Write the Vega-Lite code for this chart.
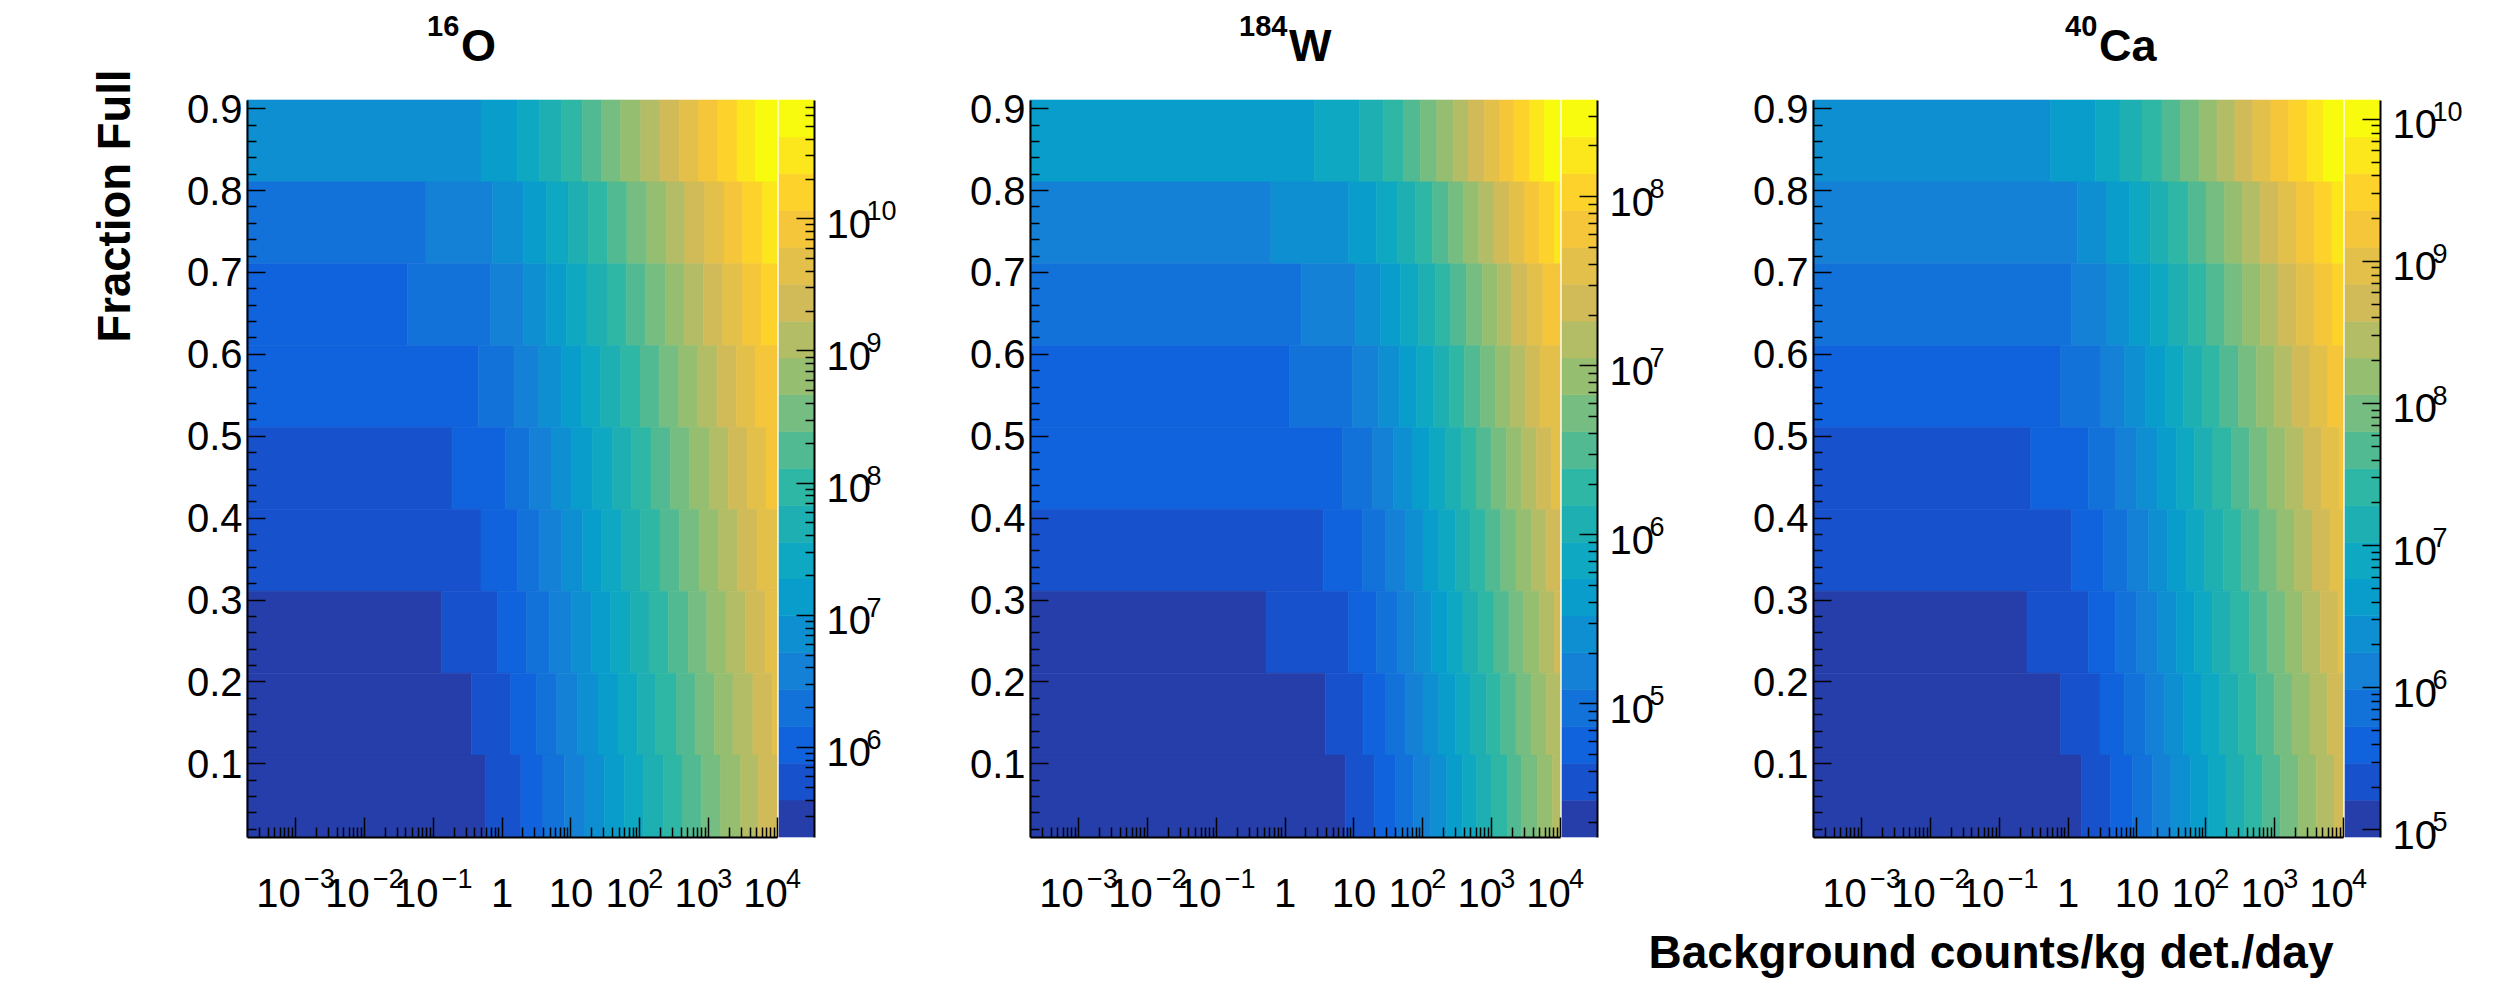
{"$schema":"https://vega.github.io/schema/vega-lite/v6.json","background":"white","padding":{"left":93,"top":13,"right":10,"bottom":10},"bounds":"flush","spacing":2,
"config":{"view":{"stroke":null},"font":"Liberation Sans","axis":{"labelFont":"Liberation Sans","titleFont":"Liberation Sans","labelColor":"black","titleColor":"black","domainColor":"black","tickColor":"black"}},
"datasets":{
"xexp":[{"b":-3,"t":"−3"},{"b":-2,"t":"−2"},{"b":-1,"t":"−1"},{"b":2,"t":"2"},{"b":3,"t":"3"},{"b":4,"t":"4"}],
"supO":[{"t":"16"}],"supW":[{"t":"184"}],"supCa":[{"t":"40"}],
"expO":[{"z":6,"t":"6"},{"z":7,"t":"7"},{"z":8,"t":"8"},{"z":9,"t":"9"},{"z":10,"t":"10"}],
"expW":[{"z":5,"t":"5"},{"z":6,"t":"6"},{"z":7,"t":"7"},{"z":8,"t":"8"}],
"expCa":[{"z":5,"t":"5"},{"z":6,"t":"6"},{"z":7,"t":"7"},{"z":8,"t":"8"},{"z":9,"t":"9"},{"z":10,"t":"10"}],
"O":[{"f0":0.81,"f1":0.91,"b0":-3.699,"b1":-0.3,"c":6},{"f0":0.81,"f1":0.91,"b0":-0.3,"b1":0.23,"c":7},{"f0":0.81,"f1":0.91,"b0":0.23,"b1":0.55,"c":8},{"f0":0.81,"f1":0.91,"b0":0.55,"b1":0.87,"c":9},{"f0":0.81,"f1":0.91,"b0":0.87,"b1":1.17,"c":10},{"f0":0.81,"f1":0.91,"b0":1.17,"b1":1.45,"c":11},{"f0":0.81,"f1":0.91,"b0":1.45,"b1":1.73,"c":12},{"f0":0.81,"f1":0.91,"b0":1.73,"b1":2.02,"c":13},{"f0":0.81,"f1":0.91,"b0":2.02,"b1":2.3,"c":14},{"f0":0.81,"f1":0.91,"b0":2.3,"b1":2.58,"c":15},{"f0":0.81,"f1":0.91,"b0":2.58,"b1":2.86,"c":16},{"f0":0.81,"f1":0.91,"b0":2.86,"b1":3.14,"c":17},{"f0":0.81,"f1":0.91,"b0":3.14,"b1":3.42,"c":18},{"f0":0.81,"f1":0.91,"b0":3.42,"b1":3.69,"c":19},{"f0":0.81,"f1":0.91,"b0":3.69,"b1":4,"c":20},
{"f0":0.71,"f1":0.81,"b0":-3.699,"b1":-1.1,"c":4},{"f0":0.71,"f1":0.81,"b0":-1.1,"b1":-0.13,"c":5},{"f0":0.71,"f1":0.81,"b0":-0.13,"b1":0.32,"c":6},{"f0":0.71,"f1":0.81,"b0":0.32,"b1":0.65,"c":7},{"f0":0.71,"f1":0.81,"b0":0.65,"b1":0.97,"c":8},{"f0":0.71,"f1":0.81,"b0":0.97,"b1":1.26,"c":9},{"f0":0.71,"f1":0.81,"b0":1.26,"b1":1.54,"c":10},{"f0":0.71,"f1":0.81,"b0":1.54,"b1":1.82,"c":11},{"f0":0.71,"f1":0.81,"b0":1.82,"b1":2.11,"c":12},{"f0":0.71,"f1":0.81,"b0":2.11,"b1":2.39,"c":13},{"f0":0.71,"f1":0.81,"b0":2.39,"b1":2.66,"c":14},{"f0":0.71,"f1":0.81,"b0":2.66,"b1":2.95,"c":15},{"f0":0.71,"f1":0.81,"b0":2.95,"b1":3.23,"c":16},{"f0":0.71,"f1":0.81,"b0":3.23,"b1":3.5,"c":17},{"f0":0.71,"f1":0.81,"b0":3.5,"b1":3.79,"c":18},{"f0":0.71,"f1":0.81,"b0":3.79,"b1":4,"c":19},
{"f0":0.61,"f1":0.71,"b0":-3.699,"b1":-1.37,"c":3},{"f0":0.61,"f1":0.71,"b0":-1.37,"b1":-0.16,"c":4},{"f0":0.61,"f1":0.71,"b0":-0.16,"b1":0.32,"c":5},{"f0":0.61,"f1":0.71,"b0":0.32,"b1":0.65,"c":6},{"f0":0.61,"f1":0.71,"b0":0.65,"b1":0.94,"c":7},{"f0":0.61,"f1":0.71,"b0":0.94,"b1":1.24,"c":8},{"f0":0.61,"f1":0.71,"b0":1.24,"b1":1.53,"c":9},{"f0":0.61,"f1":0.71,"b0":1.53,"b1":1.81,"c":10},{"f0":0.61,"f1":0.71,"b0":1.81,"b1":2.09,"c":11},{"f0":0.61,"f1":0.71,"b0":2.09,"b1":2.38,"c":12},{"f0":0.61,"f1":0.71,"b0":2.38,"b1":2.65,"c":13},{"f0":0.61,"f1":0.71,"b0":2.65,"b1":2.93,"c":14},{"f0":0.61,"f1":0.71,"b0":2.93,"b1":3.21,"c":15},{"f0":0.61,"f1":0.71,"b0":3.21,"b1":3.5,"c":16},{"f0":0.61,"f1":0.71,"b0":3.5,"b1":3.77,"c":17},{"f0":0.61,"f1":0.71,"b0":3.77,"b1":4,"c":18},
{"f0":0.51,"f1":0.61,"b0":-3.699,"b1":-0.34,"c":3},{"f0":0.51,"f1":0.61,"b0":-0.34,"b1":0.18,"c":4},{"f0":0.51,"f1":0.61,"b0":0.18,"b1":0.54,"c":5},{"f0":0.51,"f1":0.61,"b0":0.54,"b1":0.87,"c":6},{"f0":0.51,"f1":0.61,"b0":0.87,"b1":1.16,"c":7},{"f0":0.51,"f1":0.61,"b0":1.16,"b1":1.44,"c":8},{"f0":0.51,"f1":0.61,"b0":1.44,"b1":1.73,"c":9},{"f0":0.51,"f1":0.61,"b0":1.73,"b1":2.01,"c":10},{"f0":0.51,"f1":0.61,"b0":2.01,"b1":2.29,"c":11},{"f0":0.51,"f1":0.61,"b0":2.29,"b1":2.57,"c":12},{"f0":0.51,"f1":0.61,"b0":2.57,"b1":2.85,"c":13},{"f0":0.51,"f1":0.61,"b0":2.85,"b1":3.13,"c":14},{"f0":0.51,"f1":0.61,"b0":3.13,"b1":3.41,"c":15},{"f0":0.51,"f1":0.61,"b0":3.41,"b1":3.69,"c":16},{"f0":0.51,"f1":0.61,"b0":3.69,"b1":4,"c":17},
{"f0":0.41,"f1":0.51,"b0":-3.699,"b1":-0.72,"c":2},{"f0":0.41,"f1":0.51,"b0":-0.72,"b1":0.06,"c":3},{"f0":0.41,"f1":0.51,"b0":0.06,"b1":0.4,"c":4},{"f0":0.41,"f1":0.51,"b0":0.4,"b1":0.73,"c":5},{"f0":0.41,"f1":0.51,"b0":0.73,"b1":1.02,"c":6},{"f0":0.41,"f1":0.51,"b0":1.02,"b1":1.32,"c":7},{"f0":0.41,"f1":0.51,"b0":1.32,"b1":1.61,"c":8},{"f0":0.41,"f1":0.51,"b0":1.61,"b1":1.89,"c":9},{"f0":0.41,"f1":0.51,"b0":1.89,"b1":2.17,"c":10},{"f0":0.41,"f1":0.51,"b0":2.17,"b1":2.45,"c":11},{"f0":0.41,"f1":0.51,"b0":2.45,"b1":2.73,"c":12},{"f0":0.41,"f1":0.51,"b0":2.73,"b1":3.02,"c":13},{"f0":0.41,"f1":0.51,"b0":3.02,"b1":3.29,"c":14},{"f0":0.41,"f1":0.51,"b0":3.29,"b1":3.57,"c":15},{"f0":0.41,"f1":0.51,"b0":3.57,"b1":3.84,"c":16},{"f0":0.41,"f1":0.51,"b0":3.84,"b1":4,"c":17},
{"f0":0.31,"f1":0.41,"b0":-3.699,"b1":-0.3,"c":2},{"f0":0.31,"f1":0.41,"b0":-0.3,"b1":0.23,"c":3},{"f0":0.31,"f1":0.41,"b0":0.23,"b1":0.55,"c":4},{"f0":0.31,"f1":0.41,"b0":0.55,"b1":0.87,"c":5},{"f0":0.31,"f1":0.41,"b0":0.87,"b1":1.17,"c":6},{"f0":0.31,"f1":0.41,"b0":1.17,"b1":1.45,"c":7},{"f0":0.31,"f1":0.41,"b0":1.45,"b1":1.74,"c":8},{"f0":0.31,"f1":0.41,"b0":1.74,"b1":2.02,"c":9},{"f0":0.31,"f1":0.41,"b0":2.02,"b1":2.3,"c":10},{"f0":0.31,"f1":0.41,"b0":2.3,"b1":2.58,"c":11},{"f0":0.31,"f1":0.41,"b0":2.58,"b1":2.87,"c":12},{"f0":0.31,"f1":0.41,"b0":2.87,"b1":3.15,"c":13},{"f0":0.31,"f1":0.41,"b0":3.15,"b1":3.43,"c":14},{"f0":0.31,"f1":0.41,"b0":3.43,"b1":3.71,"c":15},{"f0":0.31,"f1":0.41,"b0":3.71,"b1":4,"c":16},
{"f0":0.21,"f1":0.31,"b0":-3.699,"b1":-0.87,"c":1},{"f0":0.21,"f1":0.31,"b0":-0.87,"b1":-0.06,"c":2},{"f0":0.21,"f1":0.31,"b0":-0.06,"b1":0.36,"c":3},{"f0":0.21,"f1":0.31,"b0":0.36,"b1":0.69,"c":4},{"f0":0.21,"f1":0.31,"b0":0.69,"b1":1.01,"c":5},{"f0":0.21,"f1":0.31,"b0":1.01,"b1":1.3,"c":6},{"f0":0.21,"f1":0.31,"b0":1.3,"b1":1.58,"c":7},{"f0":0.21,"f1":0.31,"b0":1.58,"b1":1.87,"c":8},{"f0":0.21,"f1":0.31,"b0":1.87,"b1":2.14,"c":9},{"f0":0.21,"f1":0.31,"b0":2.14,"b1":2.42,"c":10},{"f0":0.21,"f1":0.31,"b0":2.42,"b1":2.71,"c":11},{"f0":0.21,"f1":0.31,"b0":2.71,"b1":2.98,"c":12},{"f0":0.21,"f1":0.31,"b0":2.98,"b1":3.26,"c":13},{"f0":0.21,"f1":0.31,"b0":3.26,"b1":3.54,"c":14},{"f0":0.21,"f1":0.31,"b0":3.54,"b1":3.83,"c":15},{"f0":0.21,"f1":0.31,"b0":3.83,"b1":4,"c":16},
{"f0":0.11,"f1":0.21,"b0":-3.699,"b1":-0.44,"c":1},{"f0":0.11,"f1":0.21,"b0":-0.44,"b1":0.13,"c":2},{"f0":0.11,"f1":0.21,"b0":0.13,"b1":0.51,"c":3},{"f0":0.11,"f1":0.21,"b0":0.51,"b1":0.8,"c":4},{"f0":0.11,"f1":0.21,"b0":0.8,"b1":1.1,"c":5},{"f0":0.11,"f1":0.21,"b0":1.1,"b1":1.4,"c":6},{"f0":0.11,"f1":0.21,"b0":1.4,"b1":1.69,"c":7},{"f0":0.11,"f1":0.21,"b0":1.69,"b1":1.97,"c":8},{"f0":0.11,"f1":0.21,"b0":1.97,"b1":2.24,"c":9},{"f0":0.11,"f1":0.21,"b0":2.24,"b1":2.54,"c":10},{"f0":0.11,"f1":0.21,"b0":2.54,"b1":2.81,"c":11},{"f0":0.11,"f1":0.21,"b0":2.81,"b1":3.09,"c":12},{"f0":0.11,"f1":0.21,"b0":3.09,"b1":3.36,"c":13},{"f0":0.11,"f1":0.21,"b0":3.36,"b1":3.65,"c":14},{"f0":0.11,"f1":0.21,"b0":3.65,"b1":3.93,"c":15},{"f0":0.11,"f1":0.21,"b0":3.93,"b1":4,"c":16},
{"f0":0.01,"f1":0.11,"b0":-3.699,"b1":-0.23,"c":1},{"f0":0.01,"f1":0.11,"b0":-0.23,"b1":0.28,"c":2},{"f0":0.01,"f1":0.11,"b0":0.28,"b1":0.6,"c":3},{"f0":0.01,"f1":0.11,"b0":0.6,"b1":0.91,"c":4},{"f0":0.01,"f1":0.11,"b0":0.91,"b1":1.21,"c":5},{"f0":0.01,"f1":0.11,"b0":1.21,"b1":1.49,"c":6},{"f0":0.01,"f1":0.11,"b0":1.49,"b1":1.78,"c":7},{"f0":0.01,"f1":0.11,"b0":1.78,"b1":2.06,"c":8},{"f0":0.01,"f1":0.11,"b0":2.06,"b1":2.35,"c":9},{"f0":0.01,"f1":0.11,"b0":2.35,"b1":2.62,"c":10},{"f0":0.01,"f1":0.11,"b0":2.62,"b1":2.9,"c":11},{"f0":0.01,"f1":0.11,"b0":2.9,"b1":3.18,"c":12},{"f0":0.01,"f1":0.11,"b0":3.18,"b1":3.47,"c":13},{"f0":0.01,"f1":0.11,"b0":3.47,"b1":3.73,"c":14},{"f0":0.01,"f1":0.11,"b0":3.73,"b1":4,"c":15}],
"W":[{"f0":0.81,"f1":0.91,"b0":-3.699,"b1":0.43,"c":7},{"f0":0.81,"f1":0.91,"b0":0.43,"b1":1.09,"c":8},{"f0":0.81,"f1":0.91,"b0":1.09,"b1":1.44,"c":9},{"f0":0.81,"f1":0.91,"b0":1.44,"b1":1.73,"c":10},{"f0":0.81,"f1":0.91,"b0":1.73,"b1":1.97,"c":11},{"f0":0.81,"f1":0.91,"b0":1.97,"b1":2.21,"c":12},{"f0":0.81,"f1":0.91,"b0":2.21,"b1":2.45,"c":13},{"f0":0.81,"f1":0.91,"b0":2.45,"b1":2.67,"c":14},{"f0":0.81,"f1":0.91,"b0":2.67,"b1":2.9,"c":15},{"f0":0.81,"f1":0.91,"b0":2.9,"b1":3.12,"c":16},{"f0":0.81,"f1":0.91,"b0":3.12,"b1":3.33,"c":17},{"f0":0.81,"f1":0.91,"b0":3.33,"b1":3.56,"c":18},{"f0":0.81,"f1":0.91,"b0":3.56,"b1":3.77,"c":19},{"f0":0.81,"f1":0.91,"b0":3.77,"b1":4,"c":20},
{"f0":0.71,"f1":0.81,"b0":-3.699,"b1":-0.2,"c":5},{"f0":0.71,"f1":0.81,"b0":-0.2,"b1":0.93,"c":6},{"f0":0.71,"f1":0.81,"b0":0.93,"b1":1.33,"c":7},{"f0":0.71,"f1":0.81,"b0":1.33,"b1":1.64,"c":8},{"f0":0.71,"f1":0.81,"b0":1.64,"b1":1.9,"c":9},{"f0":0.71,"f1":0.81,"b0":1.9,"b1":2.15,"c":10},{"f0":0.71,"f1":0.81,"b0":2.15,"b1":2.38,"c":11},{"f0":0.71,"f1":0.81,"b0":2.38,"b1":2.6,"c":12},{"f0":0.71,"f1":0.81,"b0":2.6,"b1":2.82,"c":13},{"f0":0.71,"f1":0.81,"b0":2.82,"b1":3.04,"c":14},{"f0":0.71,"f1":0.81,"b0":3.04,"b1":3.26,"c":15},{"f0":0.71,"f1":0.81,"b0":3.26,"b1":3.48,"c":16},{"f0":0.71,"f1":0.81,"b0":3.48,"b1":3.7,"c":17},{"f0":0.71,"f1":0.81,"b0":3.7,"b1":3.92,"c":18},{"f0":0.71,"f1":0.81,"b0":3.92,"b1":4,"c":19},
{"f0":0.61,"f1":0.71,"b0":-3.699,"b1":0.24,"c":4},{"f0":0.61,"f1":0.71,"b0":0.24,"b1":1.03,"c":5},{"f0":0.61,"f1":0.71,"b0":1.03,"b1":1.39,"c":6},{"f0":0.61,"f1":0.71,"b0":1.39,"b1":1.68,"c":7},{"f0":0.61,"f1":0.71,"b0":1.68,"b1":1.94,"c":8},{"f0":0.61,"f1":0.71,"b0":1.94,"b1":2.19,"c":9},{"f0":0.61,"f1":0.71,"b0":2.19,"b1":2.41,"c":10},{"f0":0.61,"f1":0.71,"b0":2.41,"b1":2.64,"c":11},{"f0":0.61,"f1":0.71,"b0":2.64,"b1":2.87,"c":12},{"f0":0.61,"f1":0.71,"b0":2.87,"b1":3.09,"c":13},{"f0":0.61,"f1":0.71,"b0":3.09,"b1":3.3,"c":14},{"f0":0.61,"f1":0.71,"b0":3.3,"b1":3.53,"c":15},{"f0":0.61,"f1":0.71,"b0":3.53,"b1":3.75,"c":16},{"f0":0.61,"f1":0.71,"b0":3.75,"b1":4,"c":17},
{"f0":0.51,"f1":0.61,"b0":-3.699,"b1":0.07,"c":3},{"f0":0.51,"f1":0.61,"b0":0.07,"b1":0.98,"c":4},{"f0":0.51,"f1":0.61,"b0":0.98,"b1":1.36,"c":5},{"f0":0.51,"f1":0.61,"b0":1.36,"b1":1.67,"c":6},{"f0":0.51,"f1":0.61,"b0":1.67,"b1":1.91,"c":7},{"f0":0.51,"f1":0.61,"b0":1.91,"b1":2.16,"c":8},{"f0":0.51,"f1":0.61,"b0":2.16,"b1":2.39,"c":9},{"f0":0.51,"f1":0.61,"b0":2.39,"b1":2.61,"c":10},{"f0":0.51,"f1":0.61,"b0":2.61,"b1":2.84,"c":11},{"f0":0.51,"f1":0.61,"b0":2.84,"b1":3.06,"c":12},{"f0":0.51,"f1":0.61,"b0":3.06,"b1":3.28,"c":13},{"f0":0.51,"f1":0.61,"b0":3.28,"b1":3.5,"c":14},{"f0":0.51,"f1":0.61,"b0":3.5,"b1":3.71,"c":15},{"f0":0.51,"f1":0.61,"b0":3.71,"b1":4,"c":16},
{"f0":0.41,"f1":0.51,"b0":-3.699,"b1":0.84,"c":3},{"f0":0.41,"f1":0.51,"b0":0.84,"b1":1.27,"c":4},{"f0":0.41,"f1":0.51,"b0":1.27,"b1":1.58,"c":5},{"f0":0.41,"f1":0.51,"b0":1.58,"b1":1.85,"c":6},{"f0":0.41,"f1":0.51,"b0":1.85,"b1":2.1,"c":7},{"f0":0.41,"f1":0.51,"b0":2.1,"b1":2.33,"c":8},{"f0":0.41,"f1":0.51,"b0":2.33,"b1":2.57,"c":9},{"f0":0.41,"f1":0.51,"b0":2.57,"b1":2.78,"c":10},{"f0":0.41,"f1":0.51,"b0":2.78,"b1":3,"c":11},{"f0":0.41,"f1":0.51,"b0":3,"b1":3.22,"c":12},{"f0":0.41,"f1":0.51,"b0":3.22,"b1":3.44,"c":13},{"f0":0.41,"f1":0.51,"b0":3.44,"b1":3.66,"c":14},{"f0":0.41,"f1":0.51,"b0":3.66,"b1":3.88,"c":15},{"f0":0.41,"f1":0.51,"b0":3.88,"b1":4,"c":16},
{"f0":0.31,"f1":0.41,"b0":-3.699,"b1":0.56,"c":2},{"f0":0.31,"f1":0.41,"b0":0.56,"b1":1.13,"c":3},{"f0":0.31,"f1":0.41,"b0":1.13,"b1":1.47,"c":4},{"f0":0.31,"f1":0.41,"b0":1.47,"b1":1.76,"c":5},{"f0":0.31,"f1":0.41,"b0":1.76,"b1":2.01,"c":6},{"f0":0.31,"f1":0.41,"b0":2.01,"b1":2.24,"c":7},{"f0":0.31,"f1":0.41,"b0":2.24,"b1":2.48,"c":8},{"f0":0.31,"f1":0.41,"b0":2.48,"b1":2.7,"c":9},{"f0":0.31,"f1":0.41,"b0":2.7,"b1":2.92,"c":10},{"f0":0.31,"f1":0.41,"b0":2.92,"b1":3.14,"c":11},{"f0":0.31,"f1":0.41,"b0":3.14,"b1":3.36,"c":12},{"f0":0.31,"f1":0.41,"b0":3.36,"b1":3.59,"c":13},{"f0":0.31,"f1":0.41,"b0":3.59,"b1":3.8,"c":14},{"f0":0.31,"f1":0.41,"b0":3.8,"b1":4,"c":15},
{"f0":0.21,"f1":0.31,"b0":-3.699,"b1":-0.27,"c":1},{"f0":0.21,"f1":0.31,"b0":-0.27,"b1":0.93,"c":2},{"f0":0.21,"f1":0.31,"b0":0.93,"b1":1.33,"c":3},{"f0":0.21,"f1":0.31,"b0":1.33,"b1":1.64,"c":4},{"f0":0.21,"f1":0.31,"b0":1.64,"b1":1.89,"c":5},{"f0":0.21,"f1":0.31,"b0":1.89,"b1":2.13,"c":6},{"f0":0.21,"f1":0.31,"b0":2.13,"b1":2.36,"c":7},{"f0":0.21,"f1":0.31,"b0":2.36,"b1":2.59,"c":8},{"f0":0.21,"f1":0.31,"b0":2.59,"b1":2.81,"c":9},{"f0":0.21,"f1":0.31,"b0":2.81,"b1":3.04,"c":10},{"f0":0.21,"f1":0.31,"b0":3.04,"b1":3.26,"c":11},{"f0":0.21,"f1":0.31,"b0":3.26,"b1":3.47,"c":12},{"f0":0.21,"f1":0.31,"b0":3.47,"b1":3.7,"c":13},{"f0":0.21,"f1":0.31,"b0":3.7,"b1":3.92,"c":14},{"f0":0.21,"f1":0.31,"b0":3.92,"b1":4,"c":15},
{"f0":0.11,"f1":0.21,"b0":-3.699,"b1":0.59,"c":1},{"f0":0.11,"f1":0.21,"b0":0.59,"b1":1.14,"c":2},{"f0":0.11,"f1":0.21,"b0":1.14,"b1":1.47,"c":3},{"f0":0.11,"f1":0.21,"b0":1.47,"b1":1.76,"c":4},{"f0":0.11,"f1":0.21,"b0":1.76,"b1":2.01,"c":5},{"f0":0.11,"f1":0.21,"b0":2.01,"b1":2.24,"c":6},{"f0":0.11,"f1":0.21,"b0":2.24,"b1":2.48,"c":7},{"f0":0.11,"f1":0.21,"b0":2.48,"b1":2.7,"c":8},{"f0":0.11,"f1":0.21,"b0":2.7,"b1":2.93,"c":9},{"f0":0.11,"f1":0.21,"b0":2.93,"b1":3.14,"c":10},{"f0":0.11,"f1":0.21,"b0":3.14,"b1":3.36,"c":11},{"f0":0.11,"f1":0.21,"b0":3.36,"b1":3.58,"c":12},{"f0":0.11,"f1":0.21,"b0":3.58,"b1":3.8,"c":13},{"f0":0.11,"f1":0.21,"b0":3.8,"b1":4,"c":14},
{"f0":0.01,"f1":0.11,"b0":-3.699,"b1":0.88,"c":1},{"f0":0.01,"f1":0.11,"b0":0.88,"b1":1.3,"c":2},{"f0":0.01,"f1":0.11,"b0":1.3,"b1":1.61,"c":3},{"f0":0.01,"f1":0.11,"b0":1.61,"b1":1.87,"c":4},{"f0":0.01,"f1":0.11,"b0":1.87,"b1":2.12,"c":5},{"f0":0.01,"f1":0.11,"b0":2.12,"b1":2.35,"c":6},{"f0":0.01,"f1":0.11,"b0":2.35,"b1":2.58,"c":7},{"f0":0.01,"f1":0.11,"b0":2.58,"b1":2.79,"c":8},{"f0":0.01,"f1":0.11,"b0":2.79,"b1":3.01,"c":9},{"f0":0.01,"f1":0.11,"b0":3.01,"b1":3.24,"c":10},{"f0":0.01,"f1":0.11,"b0":3.24,"b1":3.44,"c":11},{"f0":0.01,"f1":0.11,"b0":3.44,"b1":3.67,"c":12},{"f0":0.01,"f1":0.11,"b0":3.67,"b1":3.89,"c":13},{"f0":0.01,"f1":0.11,"b0":3.89,"b1":4,"c":14}],
"Ca":[{"f0":0.81,"f1":0.91,"b0":-3.699,"b1":-0.25,"c":6},{"f0":0.81,"f1":0.91,"b0":-0.25,"b1":0.4,"c":7},{"f0":0.81,"f1":0.91,"b0":0.4,"b1":0.76,"c":8},{"f0":0.81,"f1":0.91,"b0":0.76,"b1":1.08,"c":9},{"f0":0.81,"f1":0.91,"b0":1.08,"b1":1.37,"c":10},{"f0":0.81,"f1":0.91,"b0":1.37,"b1":1.64,"c":11},{"f0":0.81,"f1":0.91,"b0":1.64,"b1":1.91,"c":12},{"f0":0.81,"f1":0.91,"b0":1.91,"b1":2.17,"c":13},{"f0":0.81,"f1":0.91,"b0":2.17,"b1":2.43,"c":14},{"f0":0.81,"f1":0.91,"b0":2.43,"b1":2.69,"c":15},{"f0":0.81,"f1":0.91,"b0":2.69,"b1":2.95,"c":16},{"f0":0.81,"f1":0.91,"b0":2.95,"b1":3.21,"c":17},{"f0":0.81,"f1":0.91,"b0":3.21,"b1":3.48,"c":18},{"f0":0.81,"f1":0.91,"b0":3.48,"b1":3.72,"c":19},{"f0":0.81,"f1":0.91,"b0":3.72,"b1":4,"c":20},
{"f0":0.71,"f1":0.81,"b0":-3.699,"b1":0.14,"c":5},{"f0":0.71,"f1":0.81,"b0":0.14,"b1":0.57,"c":6},{"f0":0.71,"f1":0.81,"b0":0.57,"b1":0.9,"c":7},{"f0":0.71,"f1":0.81,"b0":0.9,"b1":1.2,"c":8},{"f0":0.71,"f1":0.81,"b0":1.2,"b1":1.47,"c":9},{"f0":0.71,"f1":0.81,"b0":1.47,"b1":1.75,"c":10},{"f0":0.71,"f1":0.81,"b0":1.75,"b1":2.01,"c":11},{"f0":0.71,"f1":0.81,"b0":2.01,"b1":2.28,"c":12},{"f0":0.71,"f1":0.81,"b0":2.28,"b1":2.54,"c":13},{"f0":0.71,"f1":0.81,"b0":2.54,"b1":2.8,"c":14},{"f0":0.71,"f1":0.81,"b0":2.8,"b1":3.06,"c":15},{"f0":0.71,"f1":0.81,"b0":3.06,"b1":3.32,"c":16},{"f0":0.71,"f1":0.81,"b0":3.32,"b1":3.58,"c":17},{"f0":0.71,"f1":0.81,"b0":3.58,"b1":3.84,"c":18},{"f0":0.71,"f1":0.81,"b0":3.84,"b1":4,"c":19},
{"f0":0.61,"f1":0.71,"b0":-3.699,"b1":0.06,"c":4},{"f0":0.61,"f1":0.71,"b0":0.06,"b1":0.57,"c":5},{"f0":0.61,"f1":0.71,"b0":0.57,"b1":0.9,"c":6},{"f0":0.61,"f1":0.71,"b0":0.9,"b1":1.2,"c":7},{"f0":0.61,"f1":0.71,"b0":1.2,"b1":1.47,"c":8},{"f0":0.61,"f1":0.71,"b0":1.47,"b1":1.75,"c":9},{"f0":0.61,"f1":0.71,"b0":1.75,"b1":2.02,"c":10},{"f0":0.61,"f1":0.71,"b0":2.02,"b1":2.28,"c":11},{"f0":0.61,"f1":0.71,"b0":2.28,"b1":2.54,"c":12},{"f0":0.61,"f1":0.71,"b0":2.54,"b1":2.8,"c":13},{"f0":0.61,"f1":0.71,"b0":2.8,"b1":3.06,"c":14},{"f0":0.61,"f1":0.71,"b0":3.06,"b1":3.32,"c":15},{"f0":0.61,"f1":0.71,"b0":3.32,"b1":3.58,"c":16},{"f0":0.61,"f1":0.71,"b0":3.58,"b1":3.84,"c":17},{"f0":0.61,"f1":0.71,"b0":3.84,"b1":4,"c":18},
{"f0":0.51,"f1":0.61,"b0":-3.699,"b1":-0.1,"c":3},{"f0":0.51,"f1":0.61,"b0":-0.1,"b1":0.47,"c":4},{"f0":0.51,"f1":0.61,"b0":0.47,"b1":0.82,"c":5},{"f0":0.51,"f1":0.61,"b0":0.82,"b1":1.13,"c":6},{"f0":0.51,"f1":0.61,"b0":1.13,"b1":1.42,"c":7},{"f0":0.51,"f1":0.61,"b0":1.42,"b1":1.68,"c":8},{"f0":0.51,"f1":0.61,"b0":1.68,"b1":1.96,"c":9},{"f0":0.51,"f1":0.61,"b0":1.96,"b1":2.21,"c":10},{"f0":0.51,"f1":0.61,"b0":2.21,"b1":2.48,"c":11},{"f0":0.51,"f1":0.61,"b0":2.48,"b1":2.74,"c":12},{"f0":0.51,"f1":0.61,"b0":2.74,"b1":3,"c":13},{"f0":0.51,"f1":0.61,"b0":3,"b1":3.26,"c":14},{"f0":0.51,"f1":0.61,"b0":3.26,"b1":3.52,"c":15},{"f0":0.51,"f1":0.61,"b0":3.52,"b1":3.78,"c":16},{"f0":0.51,"f1":0.61,"b0":3.78,"b1":4,"c":17},
{"f0":0.41,"f1":0.51,"b0":-3.699,"b1":-0.54,"c":2},{"f0":0.41,"f1":0.51,"b0":-0.54,"b1":0.3,"c":3},{"f0":0.41,"f1":0.51,"b0":0.3,"b1":0.7,"c":4},{"f0":0.41,"f1":0.51,"b0":0.7,"b1":1,"c":5},{"f0":0.41,"f1":0.51,"b0":1,"b1":1.3,"c":6},{"f0":0.41,"f1":0.51,"b0":1.3,"b1":1.58,"c":7},{"f0":0.41,"f1":0.51,"b0":1.58,"b1":1.84,"c":8},{"f0":0.41,"f1":0.51,"b0":1.84,"b1":2.11,"c":9},{"f0":0.41,"f1":0.51,"b0":2.11,"b1":2.38,"c":10},{"f0":0.41,"f1":0.51,"b0":2.38,"b1":2.64,"c":11},{"f0":0.41,"f1":0.51,"b0":2.64,"b1":2.9,"c":12},{"f0":0.41,"f1":0.51,"b0":2.9,"b1":3.16,"c":13},{"f0":0.41,"f1":0.51,"b0":3.16,"b1":3.42,"c":14},{"f0":0.41,"f1":0.51,"b0":3.42,"b1":3.69,"c":15},{"f0":0.41,"f1":0.51,"b0":3.69,"b1":3.95,"c":16},{"f0":0.41,"f1":0.51,"b0":3.95,"b1":4,"c":17},
{"f0":0.31,"f1":0.41,"b0":-3.699,"b1":0.06,"c":2},{"f0":0.31,"f1":0.41,"b0":0.06,"b1":0.52,"c":3},{"f0":0.31,"f1":0.41,"b0":0.52,"b1":0.87,"c":4},{"f0":0.31,"f1":0.41,"b0":0.87,"b1":1.17,"c":5},{"f0":0.31,"f1":0.41,"b0":1.17,"b1":1.45,"c":6},{"f0":0.31,"f1":0.41,"b0":1.45,"b1":1.73,"c":7},{"f0":0.31,"f1":0.41,"b0":1.73,"b1":1.99,"c":8},{"f0":0.31,"f1":0.41,"b0":1.99,"b1":2.26,"c":9},{"f0":0.31,"f1":0.41,"b0":2.26,"b1":2.52,"c":10},{"f0":0.31,"f1":0.41,"b0":2.52,"b1":2.78,"c":11},{"f0":0.31,"f1":0.41,"b0":2.78,"b1":3.04,"c":12},{"f0":0.31,"f1":0.41,"b0":3.04,"b1":3.29,"c":13},{"f0":0.31,"f1":0.41,"b0":3.29,"b1":3.55,"c":14},{"f0":0.31,"f1":0.41,"b0":3.55,"b1":3.81,"c":15},{"f0":0.31,"f1":0.41,"b0":3.81,"b1":4,"c":16},
{"f0":0.21,"f1":0.31,"b0":-3.699,"b1":-0.59,"c":1},{"f0":0.21,"f1":0.31,"b0":-0.59,"b1":0.3,"c":2},{"f0":0.21,"f1":0.31,"b0":0.3,"b1":0.69,"c":3},{"f0":0.21,"f1":0.31,"b0":0.69,"b1":1,"c":4},{"f0":0.21,"f1":0.31,"b0":1,"b1":1.3,"c":5},{"f0":0.21,"f1":0.31,"b0":1.3,"b1":1.58,"c":6},{"f0":0.21,"f1":0.31,"b0":1.58,"b1":1.84,"c":7},{"f0":0.21,"f1":0.31,"b0":1.84,"b1":2.1,"c":8},{"f0":0.21,"f1":0.31,"b0":2.1,"b1":2.37,"c":9},{"f0":0.21,"f1":0.31,"b0":2.37,"b1":2.64,"c":10},{"f0":0.21,"f1":0.31,"b0":2.64,"b1":2.9,"c":11},{"f0":0.21,"f1":0.31,"b0":2.9,"b1":3.16,"c":12},{"f0":0.21,"f1":0.31,"b0":3.16,"b1":3.41,"c":13},{"f0":0.21,"f1":0.31,"b0":3.41,"b1":3.67,"c":14},{"f0":0.21,"f1":0.31,"b0":3.67,"b1":3.93,"c":15},{"f0":0.21,"f1":0.31,"b0":3.93,"b1":4,"c":16},
{"f0":0.11,"f1":0.21,"b0":-3.699,"b1":-0.1,"c":1},{"f0":0.11,"f1":0.21,"b0":-0.1,"b1":0.47,"c":2},{"f0":0.11,"f1":0.21,"b0":0.47,"b1":0.82,"c":3},{"f0":0.11,"f1":0.21,"b0":0.82,"b1":1.13,"c":4},{"f0":0.11,"f1":0.21,"b0":1.13,"b1":1.41,"c":5},{"f0":0.11,"f1":0.21,"b0":1.41,"b1":1.68,"c":6},{"f0":0.11,"f1":0.21,"b0":1.68,"b1":1.95,"c":7},{"f0":0.11,"f1":0.21,"b0":1.95,"b1":2.21,"c":8},{"f0":0.11,"f1":0.21,"b0":2.21,"b1":2.48,"c":9},{"f0":0.11,"f1":0.21,"b0":2.48,"b1":2.74,"c":10},{"f0":0.11,"f1":0.21,"b0":2.74,"b1":3,"c":11},{"f0":0.11,"f1":0.21,"b0":3,"b1":3.26,"c":12},{"f0":0.11,"f1":0.21,"b0":3.26,"b1":3.52,"c":13},{"f0":0.11,"f1":0.21,"b0":3.52,"b1":3.77,"c":14},{"f0":0.11,"f1":0.21,"b0":3.77,"b1":4,"c":15},
{"f0":0.01,"f1":0.11,"b0":-3.699,"b1":0.2,"c":1},{"f0":0.01,"f1":0.11,"b0":0.2,"b1":0.62,"c":2},{"f0":0.01,"f1":0.11,"b0":0.62,"b1":0.94,"c":3},{"f0":0.01,"f1":0.11,"b0":0.94,"b1":1.23,"c":4},{"f0":0.01,"f1":0.11,"b0":1.23,"b1":1.5,"c":5},{"f0":0.01,"f1":0.11,"b0":1.5,"b1":1.78,"c":6},{"f0":0.01,"f1":0.11,"b0":1.78,"b1":2.04,"c":7},{"f0":0.01,"f1":0.11,"b0":2.04,"b1":2.3,"c":8},{"f0":0.01,"f1":0.11,"b0":2.3,"b1":2.57,"c":9},{"f0":0.01,"f1":0.11,"b0":2.57,"b1":2.83,"c":10},{"f0":0.01,"f1":0.11,"b0":2.83,"b1":3.09,"c":11},{"f0":0.01,"f1":0.11,"b0":3.09,"b1":3.35,"c":12},{"f0":0.01,"f1":0.11,"b0":3.35,"b1":3.61,"c":13},{"f0":0.01,"f1":0.11,"b0":3.61,"b1":3.87,"c":14},{"f0":0.01,"f1":0.11,"b0":3.87,"b1":4,"c":15}],
"barO":[{"z0":5.319,"z1":5.598,"c":1},{"z0":5.598,"z1":5.877,"c":2},{"z0":5.877,"z1":6.155,"c":3},{"z0":6.155,"z1":6.434,"c":4},{"z0":6.434,"z1":6.713,"c":5},{"z0":6.713,"z1":6.992,"c":6},{"z0":6.992,"z1":7.271,"c":7},{"z0":7.271,"z1":7.549,"c":8},{"z0":7.549,"z1":7.828,"c":9},{"z0":7.828,"z1":8.107,"c":10},{"z0":8.107,"z1":8.386,"c":11},{"z0":8.386,"z1":8.665,"c":12},{"z0":8.665,"z1":8.943,"c":13},{"z0":8.943,"z1":9.222,"c":14},{"z0":9.222,"z1":9.501,"c":15},{"z0":9.501,"z1":9.78,"c":16},{"z0":9.78,"z1":10.059,"c":17},{"z0":10.059,"z1":10.337,"c":18},{"z0":10.337,"z1":10.616,"c":19},{"z0":10.616,"z1":10.895,"c":20}],
"barW":[{"z0":4.21,"z1":4.428,"c":1},{"z0":4.428,"z1":4.646,"c":2},{"z0":4.646,"z1":4.864,"c":3},{"z0":4.864,"z1":5.082,"c":4},{"z0":5.082,"z1":5.3,"c":5},{"z0":5.3,"z1":5.518,"c":6},{"z0":5.518,"z1":5.736,"c":7},{"z0":5.736,"z1":5.954,"c":8},{"z0":5.954,"z1":6.172,"c":9},{"z0":6.172,"z1":6.39,"c":10},{"z0":6.39,"z1":6.608,"c":11},{"z0":6.608,"z1":6.826,"c":12},{"z0":6.826,"z1":7.044,"c":13},{"z0":7.044,"z1":7.262,"c":14},{"z0":7.262,"z1":7.48,"c":15},{"z0":7.48,"z1":7.698,"c":16},{"z0":7.698,"z1":7.916,"c":17},{"z0":7.916,"z1":8.134,"c":18},{"z0":8.134,"z1":8.352,"c":19},{"z0":8.352,"z1":8.57,"c":20}],
"barCa":[{"z0":4.946,"z1":5.205,"c":1},{"z0":5.205,"z1":5.465,"c":2},{"z0":5.465,"z1":5.724,"c":3},{"z0":5.724,"z1":5.983,"c":4},{"z0":5.983,"z1":6.243,"c":5},{"z0":6.243,"z1":6.502,"c":6},{"z0":6.502,"z1":6.761,"c":7},{"z0":6.761,"z1":7.02,"c":8},{"z0":7.02,"z1":7.28,"c":9},{"z0":7.28,"z1":7.539,"c":10},{"z0":7.539,"z1":7.798,"c":11},{"z0":7.798,"z1":8.058,"c":12},{"z0":8.058,"z1":8.317,"c":13},{"z0":8.317,"z1":8.576,"c":14},{"z0":8.576,"z1":8.835,"c":15},{"z0":8.835,"z1":9.095,"c":16},{"z0":9.095,"z1":9.354,"c":17},{"z0":9.354,"z1":9.613,"c":18},{"z0":9.613,"z1":9.872,"c":19},{"z0":9.872,"z1":10.132,"c":20}],
"none":[]
},
"hconcat":[
{"width":530,"height":737,"title":{"text":"O","font":"Liberation Sans","fontSize":45,"fontWeight":"bold","color":"black","anchor":"start","frame":"group","baseline":"alphabetic","dx":214,"offset":-93},"resolve":{"axis":{"x":"independent","y":"independent"}},
"layer":[
{"data":{"name":"O"},"mark":{"type":"rect","strokeWidth":0.6},
"encoding":{"x":{"field":"b0","type":"quantitative","scale":{"domain":[-3.699,4],"nice":false,"zero":false},"axis":{"orient":"bottom","zindex":1,"title":null,"grid":false,"domainWidth":2,"tickWidth":1.5,"values":[-3.523,-3.398,-3.301,-3.222,-3.155,-3.097,-3.046,-3,-2.699,-2.523,-2.398,-2.301,-2.222,-2.155,-2.097,-2.046,-2,-1.699,-1.523,-1.398,-1.301,-1.222,-1.155,-1.097,-1.046,-1,-0.699,-0.523,-0.398,-0.301,-0.222,-0.155,-0.097,-0.046,0,0.301,0.477,0.602,0.699,0.778,0.845,0.903,0.954,1,1.301,1.477,1.602,1.699,1.778,1.845,1.903,1.954,2,2.301,2.477,2.602,2.699,2.778,2.845,2.903,2.954,3,3.301,3.477,3.602,3.699,3.778,3.845,3.903,3.954,4],"labelExpr":"datum.value%1==0?(datum.value==0?'1':'10'):''","labelFontSize":40,"labelOverlap":false,"labelFlush":false,"labelPadding":57,"labelBaseline":"top","labelOffset":{"condition":[{"test":"datum.value<0","value":-17},{"test":"datum.value>=2","value":-12}],"value":0},"tickSize":{"condition":{"test":"datum.value%1==0","value":-20},"value":-10}}},"x2":{"field":"b1"},
"y":{"field":"f0","type":"quantitative","scale":{"domain":[0.01,0.91],"nice":false,"zero":false},"axis":{"orient":"left","zindex":1,"title":"Fraction Full","titleFontSize":45.5,"titleFontWeight":"bold","titleAngle":-90,"titleAlign":"right","titleBaseline":"alphabetic","titleAnchor":"none","titleX":-118,"titleY":-31,"grid":false,"domainWidth":2,"tickWidth":1.5,"values":[0.02,0.04,0.06,0.08,0.1,0.12,0.14,0.16,0.18,0.2,0.22,0.24,0.26,0.28,0.3,0.32,0.34,0.36,0.38,0.4,0.42,0.44,0.46,0.48,0.5,0.52,0.54,0.56,0.58,0.6,0.62,0.64,0.66,0.68,0.7,0.72,0.74,0.76,0.78,0.8,0.82,0.84,0.86,0.88,0.9],"labelExpr":"round(datum.value*100)%10==0?format(datum.value,'.1f'):''","labelFontSize":40,"labelOverlap":false,"labelFlush":false,"labelPadding":23,"labelOffset":2,"tickSize":{"condition":{"test":"round(datum.value*100)%10==0","value":-18},"value":-9}}},"y2":{"field":"f1"},
"color":{"field":"c","type":"ordinal","legend":null,"scale":{"domain":[1,2,3,4,5,6,7,8,9,10,11,12,13,14,15,16,17,18,19,20],"range":["#263EA9","#1752CC","#1063DC","#1272D9","#1481D6","#0E8FD1","#099DCC","#0EA8C2","#1EAFB3","#2EB7A4","#52BA92","#75BD80","#96BE71","#B3BD65","#D1BB59","#E3C049","#F5C53A","#FDD22B","#FBE71C","#F9FB0E"]}},
"stroke":{"field":"c","type":"ordinal","legend":null,"scale":{"domain":[1,2,3,4,5,6,7,8,9,10,11,12,13,14,15,16,17,18,19,20],"range":["#263EA9","#1752CC","#1063DC","#1272D9","#1481D6","#0E8FD1","#099DCC","#0EA8C2","#1EAFB3","#2EB7A4","#52BA92","#75BD80","#96BE71","#B3BD65","#D1BB59","#E3C049","#F5C53A","#FDD22B","#FBE71C","#F9FB0E"]}}}},
{"data":{"name":"xexp"},"mark":{"type":"text","font":"Liberation Sans","fontSize":27,"color":"black","align":"left","baseline":"alphabetic","dx":9,"dy":51},"encoding":{"x":{"field":"b","type":"quantitative","axis":null},"y":{"datum":0.01,"type":"quantitative","axis":null},"text":{"field":"t"}}},
{"data":{"name":"supO"},"mark":{"type":"text","font":"Liberation Sans","fontSize":29,"fontWeight":"bold","color":"black","align":"left","baseline":"alphabetic","dx":-85,"dy":-64},"encoding":{"y":{"datum":0.91,"type":"quantitative","axis":null},"text":{"field":"t"}}}
]},
{"width":35,"height":737,"resolve":{"axis":{"y":"independent"}},"layer":[
{"data":{"name":"barO"},"mark":{"type":"rect","strokeWidth":0.6},
"encoding":{"y":{"field":"z0","type":"quantitative","scale":{"domain":[5.319,10.895],"nice":false,"zero":false},"axis":{"orient":"right","zindex":1,"title":null,"grid":false,"domainWidth":2,"tickWidth":1.5,"values":[5.477,5.602,5.699,5.778,5.845,5.903,5.954,6,6.301,6.477,6.602,6.699,6.778,6.845,6.903,6.954,7,7.301,7.477,7.602,7.699,7.778,7.845,7.903,7.954,8,8.301,8.477,8.602,8.699,8.778,8.845,8.903,8.954,9,9.301,9.477,9.602,9.699,9.778,9.845,9.903,9.954,10,10.301,10.477,10.602,10.699,10.778,10.845],"labelExpr":"datum.value%1==0?'10':''","labelFontSize":40,"labelOverlap":false,"labelFlush":false,"labelPadding":30,"labelOffset":7,"tickSize":{"condition":{"test":"datum.value%1==0","value":-18},"value":-9}}},"y2":{"field":"z1"},
"color":{"field":"c","type":"ordinal","legend":null,"scale":{"domain":[1,2,3,4,5,6,7,8,9,10,11,12,13,14,15,16,17,18,19,20],"range":["#263EA9","#1752CC","#1063DC","#1272D9","#1481D6","#0E8FD1","#099DCC","#0EA8C2","#1EAFB3","#2EB7A4","#52BA92","#75BD80","#96BE71","#B3BD65","#D1BB59","#E3C049","#F5C53A","#FDD22B","#FBE71C","#F9FB0E"]}},
"stroke":{"field":"c","type":"ordinal","legend":null,"scale":{"domain":[1,2,3,4,5,6,7,8,9,10,11,12,13,14,15,16,17,18,19,20],"range":["#263EA9","#1752CC","#1063DC","#1272D9","#1481D6","#0E8FD1","#099DCC","#0EA8C2","#1EAFB3","#2EB7A4","#52BA92","#75BD80","#96BE71","#B3BD65","#D1BB59","#E3C049","#F5C53A","#FDD22B","#FBE71C","#F9FB0E"]}}}},
{"data":{"name":"expO"},"mark":{"type":"text","font":"Liberation Sans","fontSize":27,"color":"black","align":"left","baseline":"alphabetic","dx":70,"dy":2},"encoding":{"y":{"field":"z","type":"quantitative","axis":null},"text":{"field":"t"}}}
]},
{"width":212,"height":737,"data":{"name":"none"},"mark":"rect","encoding":{}},
{"width":530,"height":737,"title":{"text":"W","font":"Liberation Sans","fontSize":45,"fontWeight":"bold","color":"black","anchor":"start","frame":"group","baseline":"alphabetic","dx":259,"offset":-93},"resolve":{"axis":{"x":"independent","y":"independent"}},
"layer":[
{"data":{"name":"W"},"mark":{"type":"rect","strokeWidth":0.6},
"encoding":{"x":{"field":"b0","type":"quantitative","scale":{"domain":[-3.699,4],"nice":false,"zero":false},"axis":{"orient":"bottom","zindex":1,"title":null,"grid":false,"domainWidth":2,"tickWidth":1.5,"values":[-3.523,-3.398,-3.301,-3.222,-3.155,-3.097,-3.046,-3,-2.699,-2.523,-2.398,-2.301,-2.222,-2.155,-2.097,-2.046,-2,-1.699,-1.523,-1.398,-1.301,-1.222,-1.155,-1.097,-1.046,-1,-0.699,-0.523,-0.398,-0.301,-0.222,-0.155,-0.097,-0.046,0,0.301,0.477,0.602,0.699,0.778,0.845,0.903,0.954,1,1.301,1.477,1.602,1.699,1.778,1.845,1.903,1.954,2,2.301,2.477,2.602,2.699,2.778,2.845,2.903,2.954,3,3.301,3.477,3.602,3.699,3.778,3.845,3.903,3.954,4],"labelExpr":"datum.value%1==0?(datum.value==0?'1':'10'):''","labelFontSize":40,"labelOverlap":false,"labelFlush":false,"labelPadding":57,"labelBaseline":"top","labelOffset":{"condition":[{"test":"datum.value<0","value":-17},{"test":"datum.value>=2","value":-12}],"value":0},"tickSize":{"condition":{"test":"datum.value%1==0","value":-20},"value":-10}}},"x2":{"field":"b1"},
"y":{"field":"f0","type":"quantitative","scale":{"domain":[0.01,0.91],"nice":false,"zero":false},"axis":{"orient":"left","zindex":1,"title":null,"grid":false,"domainWidth":2,"tickWidth":1.5,"values":[0.02,0.04,0.06,0.08,0.1,0.12,0.14,0.16,0.18,0.2,0.22,0.24,0.26,0.28,0.3,0.32,0.34,0.36,0.38,0.4,0.42,0.44,0.46,0.48,0.5,0.52,0.54,0.56,0.58,0.6,0.62,0.64,0.66,0.68,0.7,0.72,0.74,0.76,0.78,0.8,0.82,0.84,0.86,0.88,0.9],"labelExpr":"round(datum.value*100)%10==0?format(datum.value,'.1f'):''","labelFontSize":40,"labelOverlap":false,"labelFlush":false,"labelPadding":23,"labelOffset":2,"tickSize":{"condition":{"test":"round(datum.value*100)%10==0","value":-18},"value":-9}}},"y2":{"field":"f1"},
"color":{"field":"c","type":"ordinal","legend":null,"scale":{"domain":[1,2,3,4,5,6,7,8,9,10,11,12,13,14,15,16,17,18,19,20],"range":["#263EA9","#1752CC","#1063DC","#1272D9","#1481D6","#0E8FD1","#099DCC","#0EA8C2","#1EAFB3","#2EB7A4","#52BA92","#75BD80","#96BE71","#B3BD65","#D1BB59","#E3C049","#F5C53A","#FDD22B","#FBE71C","#F9FB0E"]}},
"stroke":{"field":"c","type":"ordinal","legend":null,"scale":{"domain":[1,2,3,4,5,6,7,8,9,10,11,12,13,14,15,16,17,18,19,20],"range":["#263EA9","#1752CC","#1063DC","#1272D9","#1481D6","#0E8FD1","#099DCC","#0EA8C2","#1EAFB3","#2EB7A4","#52BA92","#75BD80","#96BE71","#B3BD65","#D1BB59","#E3C049","#F5C53A","#FDD22B","#FBE71C","#F9FB0E"]}}}},
{"data":{"name":"xexp"},"mark":{"type":"text","font":"Liberation Sans","fontSize":27,"color":"black","align":"left","baseline":"alphabetic","dx":9,"dy":51},"encoding":{"x":{"field":"b","type":"quantitative","axis":null},"y":{"datum":0.01,"type":"quantitative","axis":null},"text":{"field":"t"}}},
{"data":{"name":"supW"},"mark":{"type":"text","font":"Liberation Sans","fontSize":29,"fontWeight":"bold","color":"black","align":"left","baseline":"alphabetic","dx":-56,"dy":-64},"encoding":{"y":{"datum":0.91,"type":"quantitative","axis":null},"text":{"field":"t"}}}
]},
{"width":35,"height":737,"resolve":{"axis":{"y":"independent"}},"layer":[
{"data":{"name":"barW"},"mark":{"type":"rect","strokeWidth":0.6},
"encoding":{"y":{"field":"z0","type":"quantitative","scale":{"domain":[4.21,8.57],"nice":false,"zero":false},"axis":{"orient":"right","zindex":1,"title":null,"grid":false,"domainWidth":2,"tickWidth":1.5,"values":[4.301,4.477,4.602,4.699,4.778,4.845,4.903,4.954,5,5.301,5.477,5.602,5.699,5.778,5.845,5.903,5.954,6,6.301,6.477,6.602,6.699,6.778,6.845,6.903,6.954,7,7.301,7.477,7.602,7.699,7.778,7.845,7.903,7.954,8,8.301,8.477],"labelExpr":"datum.value%1==0?'10':''","labelFontSize":40,"labelOverlap":false,"labelFlush":false,"labelPadding":30,"labelOffset":7,"tickSize":{"condition":{"test":"datum.value%1==0","value":-18},"value":-9}}},"y2":{"field":"z1"},
"color":{"field":"c","type":"ordinal","legend":null,"scale":{"domain":[1,2,3,4,5,6,7,8,9,10,11,12,13,14,15,16,17,18,19,20],"range":["#263EA9","#1752CC","#1063DC","#1272D9","#1481D6","#0E8FD1","#099DCC","#0EA8C2","#1EAFB3","#2EB7A4","#52BA92","#75BD80","#96BE71","#B3BD65","#D1BB59","#E3C049","#F5C53A","#FDD22B","#FBE71C","#F9FB0E"]}},
"stroke":{"field":"c","type":"ordinal","legend":null,"scale":{"domain":[1,2,3,4,5,6,7,8,9,10,11,12,13,14,15,16,17,18,19,20],"range":["#263EA9","#1752CC","#1063DC","#1272D9","#1481D6","#0E8FD1","#099DCC","#0EA8C2","#1EAFB3","#2EB7A4","#52BA92","#75BD80","#96BE71","#B3BD65","#D1BB59","#E3C049","#F5C53A","#FDD22B","#FBE71C","#F9FB0E"]}}}},
{"data":{"name":"expW"},"mark":{"type":"text","font":"Liberation Sans","fontSize":27,"color":"black","align":"left","baseline":"alphabetic","dx":70,"dy":2},"encoding":{"y":{"field":"z","type":"quantitative","axis":null},"text":{"field":"t"}}}
]},
{"width":212,"height":737,"data":{"name":"none"},"mark":"rect","encoding":{}},
{"width":530,"height":737,"title":{"text":"Ca","font":"Liberation Sans","fontSize":45,"fontWeight":"bold","color":"black","anchor":"start","frame":"group","baseline":"alphabetic","dx":286,"offset":-93},"resolve":{"axis":{"x":"independent","y":"independent"}},
"layer":[
{"data":{"name":"Ca"},"mark":{"type":"rect","strokeWidth":0.6},
"encoding":{"x":{"field":"b0","type":"quantitative","scale":{"domain":[-3.699,4],"nice":false,"zero":false},"axis":{"orient":"bottom","zindex":1,"title":"Background counts/kg det./day","titleFontSize":46,"titleFontWeight":"bold","titleAlign":"right","titleAnchor":"none","titleBaseline":"alphabetic","titleX":520,"titleY":130,"grid":false,"domainWidth":2,"tickWidth":1.5,"values":[-3.523,-3.398,-3.301,-3.222,-3.155,-3.097,-3.046,-3,-2.699,-2.523,-2.398,-2.301,-2.222,-2.155,-2.097,-2.046,-2,-1.699,-1.523,-1.398,-1.301,-1.222,-1.155,-1.097,-1.046,-1,-0.699,-0.523,-0.398,-0.301,-0.222,-0.155,-0.097,-0.046,0,0.301,0.477,0.602,0.699,0.778,0.845,0.903,0.954,1,1.301,1.477,1.602,1.699,1.778,1.845,1.903,1.954,2,2.301,2.477,2.602,2.699,2.778,2.845,2.903,2.954,3,3.301,3.477,3.602,3.699,3.778,3.845,3.903,3.954,4],"labelExpr":"datum.value%1==0?(datum.value==0?'1':'10'):''","labelFontSize":40,"labelOverlap":false,"labelFlush":false,"labelPadding":57,"labelBaseline":"top","labelOffset":{"condition":[{"test":"datum.value<0","value":-17},{"test":"datum.value>=2","value":-12}],"value":0},"tickSize":{"condition":{"test":"datum.value%1==0","value":-20},"value":-10}}},"x2":{"field":"b1"},
"y":{"field":"f0","type":"quantitative","scale":{"domain":[0.01,0.91],"nice":false,"zero":false},"axis":{"orient":"left","zindex":1,"title":null,"grid":false,"domainWidth":2,"tickWidth":1.5,"values":[0.02,0.04,0.06,0.08,0.1,0.12,0.14,0.16,0.18,0.2,0.22,0.24,0.26,0.28,0.3,0.32,0.34,0.36,0.38,0.4,0.42,0.44,0.46,0.48,0.5,0.52,0.54,0.56,0.58,0.6,0.62,0.64,0.66,0.68,0.7,0.72,0.74,0.76,0.78,0.8,0.82,0.84,0.86,0.88,0.9],"labelExpr":"round(datum.value*100)%10==0?format(datum.value,'.1f'):''","labelFontSize":40,"labelOverlap":false,"labelFlush":false,"labelPadding":23,"labelOffset":2,"tickSize":{"condition":{"test":"round(datum.value*100)%10==0","value":-18},"value":-9}}},"y2":{"field":"f1"},
"color":{"field":"c","type":"ordinal","legend":null,"scale":{"domain":[1,2,3,4,5,6,7,8,9,10,11,12,13,14,15,16,17,18,19,20],"range":["#263EA9","#1752CC","#1063DC","#1272D9","#1481D6","#0E8FD1","#099DCC","#0EA8C2","#1EAFB3","#2EB7A4","#52BA92","#75BD80","#96BE71","#B3BD65","#D1BB59","#E3C049","#F5C53A","#FDD22B","#FBE71C","#F9FB0E"]}},
"stroke":{"field":"c","type":"ordinal","legend":null,"scale":{"domain":[1,2,3,4,5,6,7,8,9,10,11,12,13,14,15,16,17,18,19,20],"range":["#263EA9","#1752CC","#1063DC","#1272D9","#1481D6","#0E8FD1","#099DCC","#0EA8C2","#1EAFB3","#2EB7A4","#52BA92","#75BD80","#96BE71","#B3BD65","#D1BB59","#E3C049","#F5C53A","#FDD22B","#FBE71C","#F9FB0E"]}}}},
{"data":{"name":"xexp"},"mark":{"type":"text","font":"Liberation Sans","fontSize":27,"color":"black","align":"left","baseline":"alphabetic","dx":9,"dy":51},"encoding":{"x":{"field":"b","type":"quantitative","axis":null},"y":{"datum":0.01,"type":"quantitative","axis":null},"text":{"field":"t"}}},
{"data":{"name":"supCa"},"mark":{"type":"text","font":"Liberation Sans","fontSize":29,"fontWeight":"bold","color":"black","align":"left","baseline":"alphabetic","dx":-13,"dy":-64},"encoding":{"y":{"datum":0.91,"type":"quantitative","axis":null},"text":{"field":"t"}}}
]},
{"width":35,"height":737,"resolve":{"axis":{"y":"independent"}},"layer":[
{"data":{"name":"barCa"},"mark":{"type":"rect","strokeWidth":0.6},
"encoding":{"y":{"field":"z0","type":"quantitative","scale":{"domain":[4.946,10.132],"nice":false,"zero":false},"axis":{"orient":"right","zindex":1,"title":null,"grid":false,"domainWidth":2,"tickWidth":1.5,"values":[5,5.301,5.477,5.602,5.699,5.778,5.845,5.903,5.954,6,6.301,6.477,6.602,6.699,6.778,6.845,6.903,6.954,7,7.301,7.477,7.602,7.699,7.778,7.845,7.903,7.954,8,8.301,8.477,8.602,8.699,8.778,8.845,8.903,8.954,9,9.301,9.477,9.602,9.699,9.778,9.845,9.903,9.954,10],"labelExpr":"datum.value%1==0?'10':''","labelFontSize":40,"labelOverlap":false,"labelFlush":false,"labelPadding":30,"labelOffset":7,"tickSize":{"condition":{"test":"datum.value%1==0","value":-18},"value":-9}}},"y2":{"field":"z1"},
"color":{"field":"c","type":"ordinal","legend":null,"scale":{"domain":[1,2,3,4,5,6,7,8,9,10,11,12,13,14,15,16,17,18,19,20],"range":["#263EA9","#1752CC","#1063DC","#1272D9","#1481D6","#0E8FD1","#099DCC","#0EA8C2","#1EAFB3","#2EB7A4","#52BA92","#75BD80","#96BE71","#B3BD65","#D1BB59","#E3C049","#F5C53A","#FDD22B","#FBE71C","#F9FB0E"]}},
"stroke":{"field":"c","type":"ordinal","legend":null,"scale":{"domain":[1,2,3,4,5,6,7,8,9,10,11,12,13,14,15,16,17,18,19,20],"range":["#263EA9","#1752CC","#1063DC","#1272D9","#1481D6","#0E8FD1","#099DCC","#0EA8C2","#1EAFB3","#2EB7A4","#52BA92","#75BD80","#96BE71","#B3BD65","#D1BB59","#E3C049","#F5C53A","#FDD22B","#FBE71C","#F9FB0E"]}}}},
{"data":{"name":"expCa"},"mark":{"type":"text","font":"Liberation Sans","fontSize":27,"color":"black","align":"left","baseline":"alphabetic","dx":70,"dy":2},"encoding":{"y":{"field":"z","type":"quantitative","axis":null},"text":{"field":"t"}}}
]}
]}
